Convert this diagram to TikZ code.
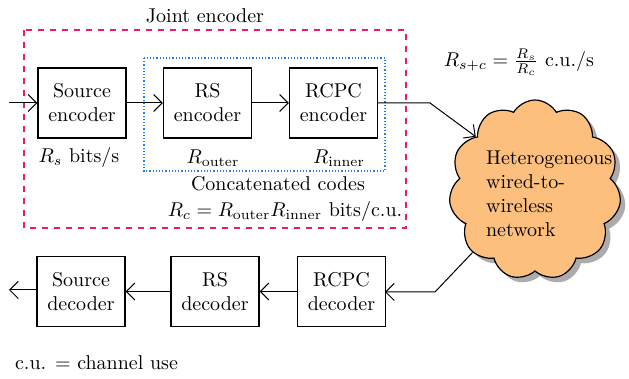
\documentclass[tikz,border=0pt]{standalone}
\usetikzlibrary{arrows.meta,shapes.symbols,shadows}
\definecolor{jointc}{HTML}{E8196E}
\definecolor{concc}{HTML}{1E7FE0}
\definecolor{netc}{HTML}{FCBF7E}
\tikzset{
  flow/.style={-{Straight Barb[length=1.5mm]}, line width=0.5pt},
  block/.style={draw, line width=0.6pt, minimum width=44pt, minimum height=35pt, align=center, inner sep=1pt},
  jointbox/.style={jointc, dashed, line width=0.6pt},
  concbox/.style={concc, densely dotted, line width=0.6pt},
  netcloud/.style={cloud, cloud puffs=11, cloud puff arc=120, draw, line width=0.6pt, fill=netc,
    minimum width=86pt, minimum height=90pt, inner sep=0pt,
    drop shadow={shadow xshift=2.5pt, shadow yshift=-2.5pt, fill=black!65}},
  lab/.style={font=\normalsize},
}

\begin{document}
\begin{tikzpicture}[x=0.5pt,y=-0.5pt]
\useasboundingbox (0,0) rectangle (629,379);

% ===================== joint encoder =====================
\draw[jointbox] (24,30) rectangle (406,228);
\node[lab] (jointlab) at (205,16) {Joint encoder};
\draw[concbox] (144,58) rectangle (385,171);

\node[block] (srcenc) at (82,103) {Source\\encoder};
\node[block] (rsenc) at (207.5,103) {RS\\encoder};
\node[block] (rcpcenc) at (333.5,103) {RCPC\\encoder};

\coordinate (inA) at (9,103);
\draw[flow] (inA) -- (srcenc);
\draw[flow] (srcenc) -- (rsenc);
\draw[flow] (rsenc) -- (rcpcenc);

\node[lab] (rslab) at (79,158) {$R_s$ bits/s};
\node[lab] (routlab) at (213,158) {$R_{\mathrm{outer}}$};
\node[lab] (rinlab) at (339,158) {$R_{\mathrm{inner}}$};
\node[lab] (conclab) at (278,184) {Concatenated codes};
\node[lab] (rclab) at (285,212) {$R_c = R_{\mathrm{outer}}R_{\mathrm{inner}}$ bits/c.u.};

% ===================== channel =====================
\node[lab] (rsclab) at (519,62) {$R_{s+c} = \frac{R_s}{R_c}$ c.u./s};
\node[netcloud] (net) at (535,190) {};
\node[lab, align=left, anchor=west] (netlab) at (479,194) {Heterogeneous\\wired-to-\\wireless\\network};

\coordinate (bendA) at (430,103);
\coordinate (bendB) at (435,292);
\draw[flow] (rcpcenc.east) -- (bendA) -- (net.138);
\draw[flow] (net.225) -- (bendB) -- (bendB -| 385,0);

% ===================== decoder =====================
\node[block] (rcpcdec) at (341.5,291.5) {RCPC\\decoder};
\node[block] (rsdec) at (215,291.5) {RS\\decoder};
\node[block] (srcdec) at (81,291.5) {Source\\decoder};

\coordinate (outA) at (9,290);
\draw[flow] (rcpcdec) -- (rsdec);
\draw[flow] (rsdec) -- (srcdec);
\draw[flow] (srcdec.west |- outA) -- (outA);

\node[lab, anchor=west] (culab) at (8,363) {c.u. = channel use};

\end{tikzpicture}
\end{document}
